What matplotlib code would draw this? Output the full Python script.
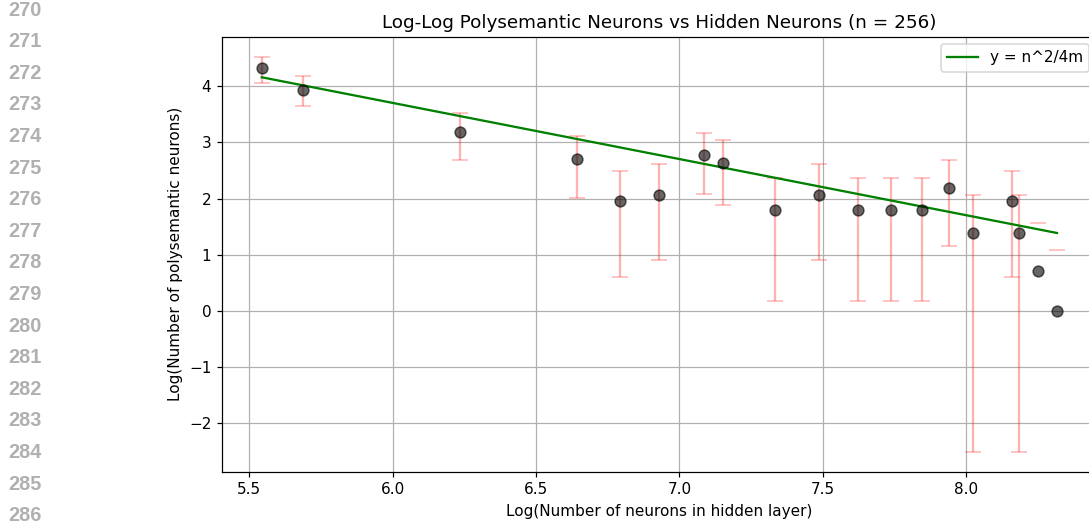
import numpy as np
import matplotlib
matplotlib.use("Agg")
import matplotlib.pyplot as plt

# values (natural log scale)
n = 256
log_hidden = [5.544, 5.687, 6.236, 6.642, 6.794, 6.929, 7.086, 7.152, 7.334, 7.486,
              7.622, 7.739, 7.845, 7.939, 8.025, 8.159, 8.183, 8.250, 8.316]
log_poly = [4.32, 3.94, 3.18, 2.71, 1.95, 2.07, 2.78, 2.64, 1.79, 2.07,
            1.79, 1.79, 1.79, 2.19, 1.39, 1.95, 1.39, 0.71, 0.00]
log_upper = [4.53, 4.18, 3.52, 3.11, 2.50, 2.61, 3.17, 3.05, 2.37, 2.61,
             2.37, 2.37, 2.37, 2.69, 2.07, 2.50, 2.07, 1.57, 1.09]
log_lower = [4.06, 3.64, 2.68, 2.01, 0.61, 0.90, 2.09, 1.89, 0.18, 0.91,
             0.18, 0.18, 0.18, 1.15, -2.51, 0.61, -2.51, np.nan, np.nan]
line_numbers = list(range(270, 287))

x = np.array(log_hidden)
y = np.array(log_poly)
err = [y - np.array(log_lower), np.array(log_upper) - y]

# model line y = n^2 / 4m in log space
fit = np.log(n ** 2 / 4) - x

fig = plt.figure(figsize=(1089 / 110, 527 / 110), dpi=110)
ax = fig.add_axes([0.2039, 0.1049, 0.8032, 0.8254])

ax.errorbar(x, y, yerr=err, fmt="none", ecolor="red", alpha=0.3, capsize=5, elinewidth=1.5)
ax.plot(x, fit, color="green", label="y = n^2/4m")
ax.scatter(x, y, color="black", alpha=0.6, s=50, zorder=3)

ax.set_title("Log-Log Polysemantic Neurons vs Hidden Neurons (n = 256)")
ax.set_xlabel("Log(Number of neurons in hidden layer)")
ax.set_ylabel("Log(Number of polysemantic neurons)")
ax.legend(loc="upper right")
ax.grid(True)

# paper line numbers down the left margin
for i, num in enumerate(line_numbers):
    fig.text(0.008, 1 - (10 + i * 31.6) / 527, str(num), color="#b0b0b0",
             fontsize=13, fontweight="bold", family="Liberation Sans",
             va="center", ha="left")

fig.savefig("out.png", dpi=110)
